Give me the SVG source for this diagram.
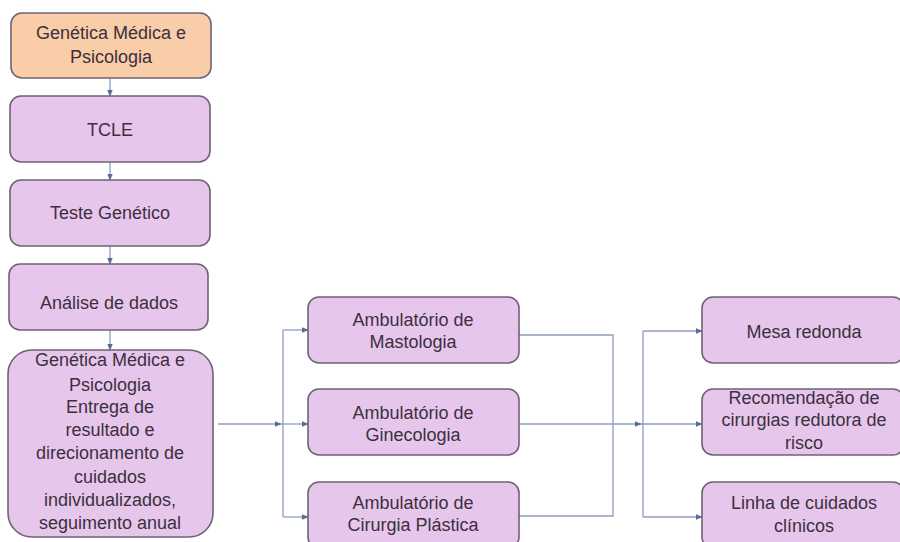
<svg xmlns="http://www.w3.org/2000/svg" width="900" height="542" viewBox="0 0 900 542">
<style>
.box{fill:#e7c6eb;stroke:#6f6275;stroke-width:1.6}
.orange{fill:#f9cda8}
.t{font-family:"Liberation Sans",Arial,sans-serif;font-size:18px;fill:#3b3040;text-anchor:middle}
.c{fill:none;stroke:#8e9cc2;stroke-width:1.3}
</style>
<defs>
<marker id="ah" viewBox="0 0 10 10" refX="9" refY="5" markerWidth="7" markerHeight="7" orient="auto" markerUnits="userSpaceOnUse">
<path d="M0,1 L10,5 L0,9 z" fill="#5b6b98"/>
</marker>
</defs>
<rect width="900" height="542" fill="#ffffff"/>
<g id="connectors">
<path class="c" d="M110,78 V96" marker-end="url(#ah)"/>
<path class="c" d="M110,162 V180" marker-end="url(#ah)"/>
<path class="c" d="M110,246 V264" marker-end="url(#ah)"/>
<path class="c" d="M110,330 V350" marker-end="url(#ah)"/>
<path class="c" d="M218,424 H281" marker-end="url(#ah)"/>
<path class="c" d="M281,424 H308" marker-end="url(#ah)"/>
<path class="c" d="M283,330 V517"/>
<path class="c" d="M283,330 H308" marker-end="url(#ah)"/>
<path class="c" d="M283,517 H308" marker-end="url(#ah)"/>
<path class="c" d="M519,335 H613 V516 H519"/>
<path class="c" d="M519,424 H641" marker-end="url(#ah)"/>
<path class="c" d="M641,424 H702" marker-end="url(#ah)"/>
<path class="c" d="M643,331 V517"/>
<path class="c" d="M643,331 H702" marker-end="url(#ah)"/>
<path class="c" d="M643,517 H702" marker-end="url(#ah)"/>
</g>
<g id="n1"><rect class="box orange" x="11" y="13" width="200" height="65" rx="11"/>
<text class="t" x="111" y="39">Genética Médica e</text><text class="t" x="111" y="63">Psicologia</text></g>
<g id="n2"><rect class="box" x="10" y="96" width="200" height="66" rx="11"/>
<text class="t" x="110" y="136">TCLE</text></g>
<g id="n3"><rect class="box" x="10" y="180" width="200" height="66" rx="11"/>
<text class="t" x="110" y="219">Teste Genético</text></g>
<g id="n4"><rect class="box" x="9" y="264" width="199" height="66" rx="11"/>
<text class="t" x="109" y="309">Análise de dados</text></g>
<g id="n5"><rect class="box" x="8" y="350" width="205" height="187" rx="24"/>
<text class="t" x="110" y="366">Genética Médica e</text>
<text class="t" x="110" y="391">Psicologia</text>
<text class="t" x="110" y="413">Entrega de</text>
<text class="t" x="110" y="436">resultado e</text>
<text class="t" x="110" y="459">direcionamento de</text>
<text class="t" x="110" y="483">cuidados</text>
<text class="t" x="110" y="506">individualizados,</text>
<text class="t" x="110" y="529">seguimento anual</text></g>
<g id="m1"><rect class="box" x="308" y="297" width="211" height="66" rx="11"/>
<text class="t" x="413" y="326">Ambulatório de</text><text class="t" x="413" y="348">Mastologia</text></g>
<g id="m2"><rect class="box" x="308" y="389" width="211" height="66" rx="11"/>
<text class="t" x="413" y="419">Ambulatório de</text><text class="t" x="413" y="441">Ginecologia</text></g>
<g id="m3"><rect class="box" x="308" y="482" width="211" height="66" rx="11"/>
<text class="t" x="413" y="509">Ambulatório de</text><text class="t" x="413" y="531">Cirurgia Plástica</text></g>
<g id="r1"><rect class="box" x="702" y="297" width="202" height="66" rx="11"/>
<text class="t" x="804" y="338">Mesa redonda</text></g>
<g id="r2"><rect class="box" x="702" y="389" width="202" height="66" rx="11"/>
<text class="t" x="804" y="404">Recomendação de</text><text class="t" x="804" y="426">cirurgias redutora de</text><text class="t" x="804" y="449">risco</text></g>
<g id="r3"><rect class="box" x="702" y="482" width="202" height="66" rx="11"/>
<text class="t" x="804" y="509">Linha de cuidados</text><text class="t" x="804" y="532">clínicos</text></g>
</svg>
